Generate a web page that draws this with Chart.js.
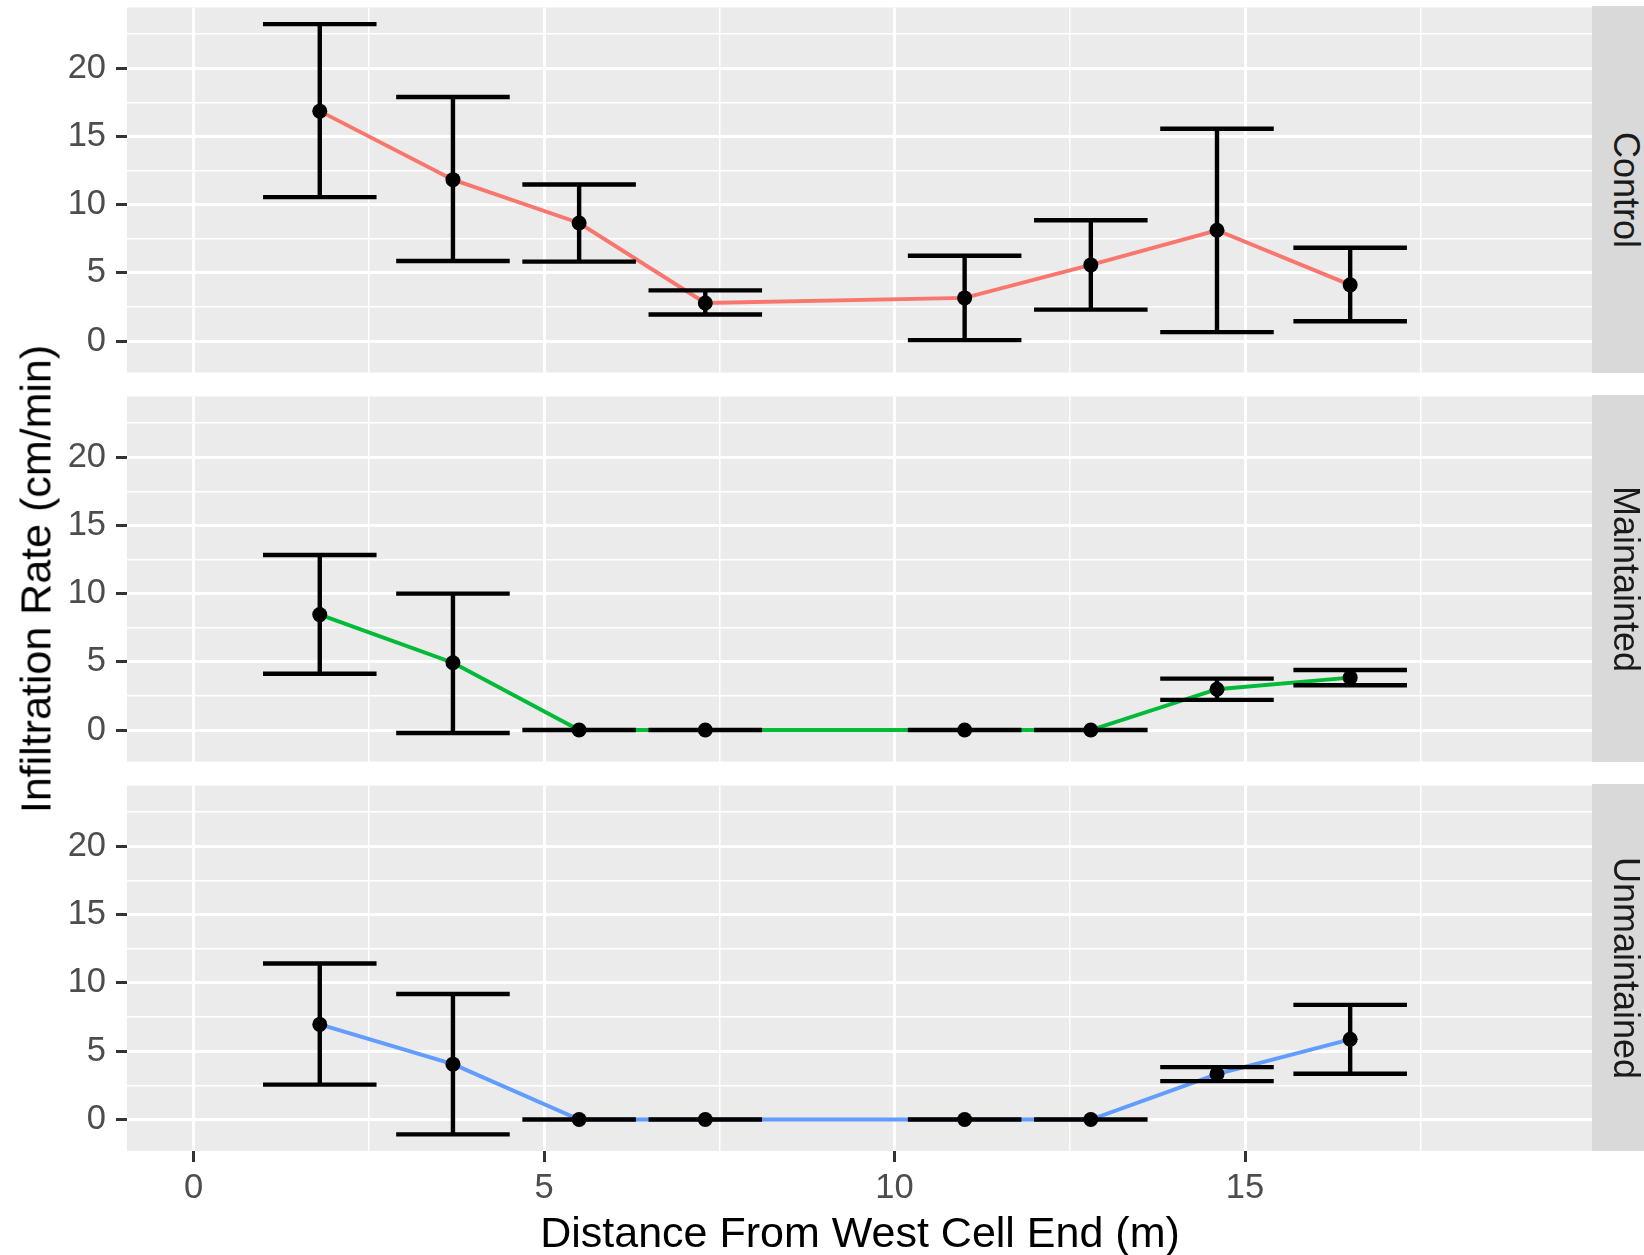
<!DOCTYPE html>
<html>
<head>
<meta charset="utf-8">
<script src="https://cdn.jsdelivr.net/npm/chart.js@4"></script>
<style>
  body { margin:0; background:#fff; width:1644px; height:1255px; position:relative; overflow:hidden;
         font-family:'Liberation Sans', Arial, Helvetica, sans-serif; }
  canvas { position:absolute; left:0; }
  .strip { position:absolute; left:1592px; width:52px; height:367px; background:#D9D9D9; }
  .strip span { position:absolute; left:33.5px; top:50%; transform:translate(-50%,-50%) rotate(90deg);
                font-size:36px; line-height:36px; color:#1A1A1A; white-space:nowrap; }
  .title { position:absolute; font-size:43px; line-height:43px; color:#000; white-space:nowrap; }
</style>
</head>
<body>
<canvas id="c0" width="1644" height="380" style="top:0px"></canvas>
<canvas id="c1" width="1644" height="380" style="top:389px"></canvas>
<canvas id="c2" width="1644" height="477" style="top:778px"></canvas>

<div class="strip" style="top:6px"><span>Control</span></div>
<div class="strip" style="top:395px"><span>Maintainted</span></div>
<div class="strip" style="top:784px"><span>Unmaintained</span></div>

<div class="title" style="left:36px; top:579px; transform:translate(-50%,-50%) rotate(-90deg)">Infiltration Rate (cm/min)</div>
<div class="title" style="left:860px; top:1211px; transform:translateX(-50%)">Distance From West Cell End (m)</div>

<script>
// ========== DATA ==========
const distance = [1.8, 3.7, 5.5, 7.3, 11.0, 12.8, 14.6, 16.5];

const controlMean = [16.85, 11.83, 8.65, 2.79, 3.16, 5.58, 8.12, 4.12];
const controlLow  = [10.55, 5.87, 5.82, 1.94, 0.07, 2.30, 0.65, 1.45];
const controlHigh = [23.23, 17.89, 11.47, 3.71, 6.25, 8.85, 15.56, 6.84];

const maintainedMean = [8.46, 4.93, 0, 0, 0, 0, 2.99, 3.84];
const maintainedLow  = [4.13, -0.22, 0, 0, 0, 0, 2.21, 3.28];
const maintainedHigh = [12.83, 10.0, 0, 0, 0, 0, 3.77, 4.40];

const unmaintainedMean = [6.96, 4.05, 0, 0, 0, 0, 3.32, 5.87];
const unmaintainedLow  = [2.55, -1.09, 0, 0, 0, 0, 2.81, 3.35];
const unmaintainedHigh = [11.42, 9.19, 0, 0, 0, 0, 3.83, 8.39];

const xMajor = [0, 5, 10, 15];
const xMinor = [2.5, 7.5, 12.5, 17.5];
const yMajor = [0, 5, 10, 15, 20];
const yMinor = [2.5, 7.5, 12.5, 17.5, 22.5];

const lineColors = ['#F8766D', '#00BA38', '#619CFF'];

// axis limits (ggplot expansion of the data/limits)
const xMin = -0.95, xMax = 19.95;
const yMin = -2.306, yMax = 24.446;
const capHalf = 0.81;

// ========== PLUGINS ==========
const FONT = "'Liberation Sans', Arial, Helvetica, sans-serif";

const panelBg = {
  id: 'panelBg',
  beforeDraw(c) {
    const a = c.chartArea, ctx = c.ctx;
    ctx.save();
    ctx.fillStyle = '#EBEBEB';
    ctx.fillRect(a.left, a.top, a.right - a.left, a.bottom - a.top);
    ctx.restore();
  }
};

function makeErrorBars(low, high) {
  return {
    id: 'errorBars',
    afterDatasetsDraw(c) {
      const x = c.scales.x, y = c.scales.y, ctx = c.ctx;
      ctx.save();
      ctx.strokeStyle = '#000';
      ctx.lineWidth = 4.4;
      ctx.lineCap = 'butt';
      distance.forEach((d, i) => {
        const px = x.getPixelForValue(d);
        const l = x.getPixelForValue(d - capHalf), r = x.getPixelForValue(d + capHalf);
        const pl = y.getPixelForValue(low[i]), ph = y.getPixelForValue(high[i]);
        ctx.beginPath();
        ctx.moveTo(px, pl); ctx.lineTo(px, ph);
        ctx.moveTo(l, pl); ctx.lineTo(r, pl);
        ctx.moveTo(l, ph); ctx.lineTo(r, ph);
        ctx.stroke();
      });
      ctx.restore();
    }
  };
}

// ========== CHARTS ==========
function makeChart(id, k, mean, low, high, showX) {
  const pts = distance.map((d, i) => ({ x: d, y: mean[i] }));
  new Chart(document.getElementById(id), {
    type: 'line',
    data: { datasets: [
      { type: 'scatter', data: pts, pointRadius: 7.5, pointHoverRadius: 7.5, pointBackgroundColor: '#000', pointBorderWidth: 0, order: 0 },
      { data: pts, borderColor: lineColors[k], borderWidth: 3.9, pointRadius: 0, tension: 0, fill: false, order: 1 }
    ]},
    options: {
      responsive: false, animation: false, events: [],
      layout: { padding: { top: 6, bottom: showX ? 44 : 7, left: 0, right: 52 } },
      plugins: { legend: { display: false }, tooltip: { enabled: false } },
      scales: {
        x: {
          type: 'linear', min: xMin, max: xMax,
          afterBuildTicks: s => { s.ticks = xMajor.concat(xMinor).sort((a, b) => a - b).map(v => ({ value: v })); },
          afterFit: s => { s.height = showX ? 60 : 0; s.paddingLeft = 0; s.paddingRight = 0; },
          border: { display: false },
          grid: {
            color: '#FFFFFF',
            lineWidth: c => (c.tick && xMajor.includes(c.tick.value)) ? 3 : 1.5,
            drawTicks: showX, tickLength: 11, tickWidth: 3,
            tickColor: c => (c.tick && xMajor.includes(c.tick.value)) ? '#333333' : 'rgba(0,0,0,0)'
          },
          ticks: {
            display: showX, autoSkip: false, maxRotation: 0, padding: 6,
            color: '#4D4D4D', font: { family: FONT, size: 34.5 },
            callback: v => xMajor.includes(v) ? String(v) : ''
          }
        },
        y: {
          type: 'linear', min: yMin, max: yMax,
          afterBuildTicks: s => { s.ticks = yMajor.concat(yMinor).sort((a, b) => a - b).map(v => ({ value: v })); },
          afterFit: s => { s.width = 127; s.paddingTop = 0; s.paddingBottom = 0; },
          border: { display: false },
          grid: {
            color: '#FFFFFF',
            lineWidth: c => (c.tick && yMajor.includes(c.tick.value)) ? 3 : 1.5,
            drawTicks: true, tickLength: 11, tickWidth: 3,
            tickColor: c => (c.tick && yMajor.includes(c.tick.value)) ? '#333333' : 'rgba(0,0,0,0)'
          },
          ticks: {
            autoSkip: false, padding: 10,
            color: '#4D4D4D', font: { family: FONT, size: 34.5 },
            callback: v => yMajor.includes(v) ? String(v) : ''
          }
        }
      }
    },
    plugins: [panelBg, makeErrorBars(low, high)]
  });
}

makeChart('c0', 0, controlMean, controlLow, controlHigh, false);
makeChart('c1', 1, maintainedMean, maintainedLow, maintainedHigh, false);
makeChart('c2', 2, unmaintainedMean, unmaintainedLow, unmaintainedHigh, true);
</script>
</body>
</html>
